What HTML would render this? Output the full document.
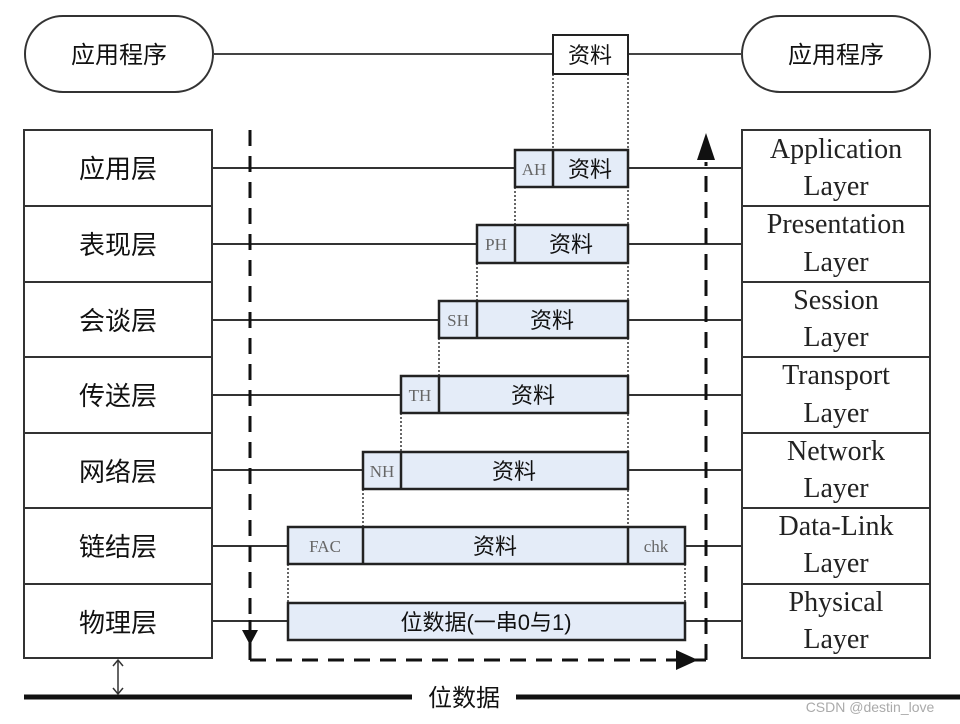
<!DOCTYPE html>
<html><head><meta charset="utf-8"><style>
html,body{margin:0;padding:0;background:#fff;}
svg{display:block;}
.cn{font-family:"Liberation Sans","Noto Sans CJK SC",sans-serif;fill:#111;}
.en{font-family:"Liberation Serif",serif;fill:#222;}
.hd{font-family:"Liberation Serif",serif;fill:#666;font-size:17px;}
</style></head><body>
<svg width="960" height="724" viewBox="0 0 960 724" xmlns="http://www.w3.org/2000/svg">
<defs>
<marker id="ah" viewBox="0 0 10 10" refX="5" refY="5" markerWidth="6" markerHeight="6" orient="auto-start-reverse"><path d="M0,1 L10,5 L0,9 z" fill="#333"/></marker>
</defs>
<!-- top pills -->
<rect x="25" y="16" width="188" height="76" rx="38" fill="#fff" stroke="#333" stroke-width="2"/>
<rect x="742" y="16" width="188" height="76" rx="38" fill="#fff" stroke="#333" stroke-width="2"/>
<text class="cn" x="119" y="63" font-size="24" text-anchor="middle">应用程序</text>
<text class="cn" x="836" y="63" font-size="24" text-anchor="middle">应用程序</text>
<line x1="213" y1="54" x2="742" y2="54" stroke="#444" stroke-width="2"/>
<rect x="553" y="35" width="75" height="39" fill="#fff" stroke="#222" stroke-width="2"/>
<text class="cn" x="590" y="63" font-size="22" text-anchor="middle">资料</text>

<!-- stacks -->
<g fill="#fff" stroke="#333" stroke-width="2">
<rect x="24" y="130" width="188" height="528"/>
<rect x="742" y="130" width="188" height="528"/>
</g>
<g stroke="#333" stroke-width="2">
<line x1="24" y1="206" x2="212" y2="206"/><line x1="24" y1="282" x2="212" y2="282"/><line x1="24" y1="357" x2="212" y2="357"/><line x1="24" y1="433" x2="212" y2="433"/><line x1="24" y1="508" x2="212" y2="508"/><line x1="24" y1="584" x2="212" y2="584"/>
<line x1="742" y1="206" x2="930" y2="206"/><line x1="742" y1="282" x2="930" y2="282"/><line x1="742" y1="357" x2="930" y2="357"/><line x1="742" y1="433" x2="930" y2="433"/><line x1="742" y1="508" x2="930" y2="508"/><line x1="742" y1="584" x2="930" y2="584"/>
</g>
<g class="cn" font-size="26" text-anchor="middle">
<text x="118" y="178">应用层</text><text x="118" y="254">表现层</text><text x="118" y="330">会谈层</text><text x="118" y="405">传送层</text><text x="118" y="481">网络层</text><text x="118" y="556">链结层</text><text x="118" y="632">物理层</text>
</g>
<g class="en" font-size="28" text-anchor="middle">
<text x="836" y="158">Application</text><text x="836" y="195">Layer</text>
<text x="836" y="233">Presentation</text><text x="836" y="271">Layer</text>
<text x="836" y="309">Session</text><text x="836" y="346">Layer</text>
<text x="836" y="384">Transport</text><text x="836" y="422">Layer</text>
<text x="836" y="460">Network</text><text x="836" y="497">Layer</text>
<text x="836" y="535">Data-Link</text><text x="836" y="572">Layer</text>
<text x="836" y="611">Physical</text><text x="836" y="648">Layer</text>
</g>

<!-- horizontal connectors -->
<g stroke="#333" stroke-width="2">
<line x1="212" y1="168" x2="515" y2="168"/><line x1="628" y1="168" x2="742" y2="168"/>
<line x1="212" y1="244" x2="477" y2="244"/><line x1="628" y1="244" x2="742" y2="244"/>
<line x1="212" y1="320" x2="439" y2="320"/><line x1="628" y1="320" x2="742" y2="320"/>
<line x1="212" y1="395" x2="401" y2="395"/><line x1="628" y1="395" x2="742" y2="395"/>
<line x1="212" y1="470" x2="363" y2="470"/><line x1="628" y1="470" x2="742" y2="470"/>
<line x1="212" y1="546" x2="288" y2="546"/><line x1="685" y1="546" x2="742" y2="546"/>
<line x1="212" y1="621" x2="288" y2="621"/><line x1="685" y1="621" x2="742" y2="621"/>
</g>

<!-- dotted verticals -->
<g stroke="#333" stroke-width="1.5" stroke-dasharray="2,2">
<line x1="553" y1="74" x2="553" y2="150"/><line x1="628" y1="74" x2="628" y2="527"/>
<line x1="515" y1="187" x2="515" y2="225"/>
<line x1="477" y1="263" x2="477" y2="301"/>
<line x1="439" y1="338" x2="439" y2="376"/>
<line x1="401" y1="413" x2="401" y2="452"/>
<line x1="363" y1="489" x2="363" y2="527"/>
<line x1="288" y1="564" x2="288" y2="603"/><line x1="685" y1="564" x2="685" y2="603"/>
</g>

<!-- packets -->
<g fill="#e4ecf8" stroke="#222" stroke-width="2.5">
<rect x="515" y="150" width="113" height="37"/>
<rect x="477" y="225" width="151" height="38"/>
<rect x="439" y="301" width="189" height="37"/>
<rect x="401" y="376" width="227" height="37"/>
<rect x="363" y="452" width="265" height="37"/>
<rect x="288" y="527" width="397" height="37"/>
<rect x="288" y="603" width="397" height="37"/>
</g>
<g stroke="#222" stroke-width="2.5">
<line x1="553" y1="150" x2="553" y2="187"/>
<line x1="515" y1="225" x2="515" y2="263"/>
<line x1="477" y1="301" x2="477" y2="338"/>
<line x1="439" y1="376" x2="439" y2="413"/>
<line x1="401" y1="452" x2="401" y2="489"/>
<line x1="363" y1="527" x2="363" y2="564"/><line x1="628" y1="527" x2="628" y2="564"/>
</g>
<g class="hd" text-anchor="middle">
<text x="534" y="175">AH</text><text x="496" y="250">PH</text><text x="458" y="326">SH</text><text x="420" y="401">TH</text><text x="382" y="477">NH</text><text x="325" y="552">FAC</text><text x="656" y="552">chk</text>
</g>
<g class="cn" font-size="22" text-anchor="middle">
<text x="590" y="177">资料</text><text x="571" y="252">资料</text><text x="552" y="328">资料</text><text x="533" y="403">资料</text><text x="514" y="479">资料</text><text x="495" y="554">资料</text>
<text x="486" y="630">位数据(一串0与1)</text>
</g>

<!-- dashed flow arrows -->
<g stroke="#111" stroke-width="3" stroke-dasharray="16,10" fill="none">
<line x1="250" y1="130" x2="250" y2="620"/>
<line x1="250" y1="660" x2="680" y2="660"/>
<line x1="706" y1="660" x2="706" y2="162"/>
</g>
<line x1="250" y1="620" x2="250" y2="660" stroke="#111" stroke-width="3"/>
<line x1="680" y1="660" x2="706" y2="660" stroke="#111" stroke-width="3"/>
<polygon points="242,630 258,630 250,645" fill="#111"/>
<polygon points="676,650 676,670 698,660" fill="#111"/>
<polygon points="697,160 715,160 706,133" fill="#111"/>

<!-- bottom bus -->
<line x1="24" y1="697" x2="412" y2="697" stroke="#111" stroke-width="5"/>
<line x1="516" y1="697" x2="960" y2="697" stroke="#111" stroke-width="5"/>
<text class="cn" x="464" y="706" font-size="24" text-anchor="middle">位数据</text>
<line x1="118" y1="660" x2="118" y2="694" stroke="#333" stroke-width="1.5"/>
<polyline points="113,666 118,660 123,666" fill="none" stroke="#333" stroke-width="1.5"/>
<polyline points="113,688 118,694 123,688" fill="none" stroke="#333" stroke-width="1.5"/>
<text x="870" y="712" font-family="Liberation Sans,sans-serif" font-size="14" fill="#aaa" text-anchor="middle">CSDN @destin_love</text>
</svg>
</body></html>
